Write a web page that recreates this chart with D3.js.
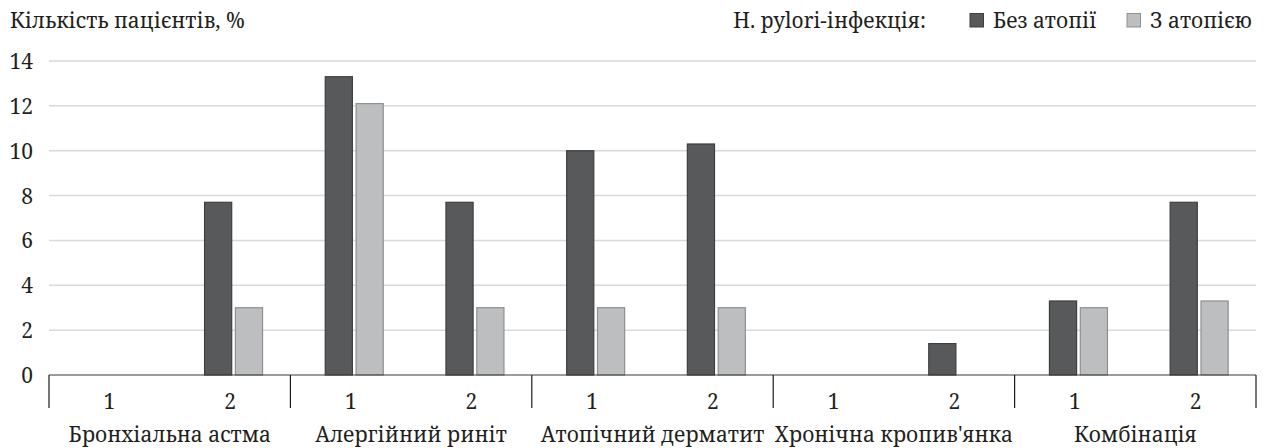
<!DOCTYPE html>
<html>
<head>
<meta charset="utf-8">
<script src="https://cdn.jsdelivr.net/npm/d3@7/dist/d3.min.js"></script>
<style>
  html, body { margin: 0; padding: 0; background: #fff; }
  svg { display: block; }
</style>
</head>
<body>
<svg id="chart" width="1265" height="448"></svg>
<script>
// Diagnosis groups and their two subgroups
const groups = ["Бронхіальна астма", "Алергійний риніт", "Атопічний дерматит", "Хронічна кропив'янка", "Комбінація"];
const subgroups = ["1", "2"];
const seriesNames = ["Без атопії", "З атопією"];
// Values per group, subgroup order 1, 2
const withoutAtopy = [[0, 7.7], [13.3, 7.7], [10.0, 10.3], [0, 1.4], [3.3, 7.7]];
const withAtopy = [[0, 3.0], [12.1, 3.0], [3.0, 3.0], [0, 0], [3.0, 3.3]];
const yTicks = [0, 2, 4, 6, 8, 10, 12, 14];

const colors = { fill: ["#58595b", "#bdbec0"], stroke: ["#3e3f41", "#8e8f91"] };
const textColor = "#231f20";
const fontSize = 21;

const svg = d3.select("#chart")
  .attr("font-family", "'Noto Serif', 'DejaVu Serif', serif");

const plotLeft = 49, plotRight = 1256, plotTop = 61, plotBottom = 375;

const y = d3.scaleLinear().domain([0, 14]).range([plotBottom, plotTop]);

// one slot per group/subgroup pair
const slots = [];
groups.forEach((g, gi) => subgroups.forEach((s, si) => {
  slots.push({ key: gi + "-" + si, group: g, gi, sub: s, values: [withoutAtopy[gi][si], withAtopy[gi][si]] });
}));

const xSlot = d3.scaleBand().domain(slots.map(d => d.key)).range([plotLeft, plotRight]).padding(0);
const xGroup = d3.scaleBand().domain(groups).range([plotLeft, plotRight]).padding(0);
const bw = xSlot.bandwidth();
const xSeries = d3.scaleBand().domain([0, 1]).range([bw / 2 - 26, bw / 2 + 32]).paddingInner(0.12);

// gridlines
svg.append("g")
  .selectAll("line")
  .data(yTicks.filter(t => t > 0))
  .join("line")
  .attr("x1", plotLeft).attr("x2", plotRight)
  .attr("y1", d => y(d)).attr("y2", d => y(d))
  .attr("stroke", "#d9d9d9").attr("stroke-width", 1.5);

// y tick labels
svg.append("g")
  .selectAll("text")
  .data(yTicks)
  .join("text")
  .attr("x", 33).attr("y", d => y(d) + 8)
  .attr("text-anchor", "end")
  .attr("font-size", fontSize).attr("fill", textColor)
  .text(d => d);

// bars
const slotG = svg.append("g")
  .selectAll("g")
  .data(slots)
  .join("g")
  .attr("transform", d => `translate(${xSlot(d.key)},0)`);

slotG.selectAll("rect")
  .data(d => d.values.map((v, i) => ({ v, i })).filter(e => e.v > 0))
  .join("rect")
  .attr("x", e => xSeries(e.i) + 0.5)
  .attr("width", xSeries.bandwidth())
  .attr("y", e => y(e.v))
  .attr("height", e => y(0) - y(e.v))
  .attr("fill", e => colors.fill[e.i])
  .attr("stroke", e => colors.stroke[e.i])
  .attr("stroke-width", 1.2);

// baseline
svg.append("line")
  .attr("x1", plotLeft).attr("x2", plotRight)
  .attr("y1", plotBottom).attr("y2", plotBottom)
  .attr("stroke", "#3a3a3a").attr("stroke-width", 1.2);

// group separators
const seps = groups.map(g => xGroup(g)).concat([plotRight]);
svg.append("g")
  .selectAll("line")
  .data(seps)
  .join("line")
  .attr("x1", d => d).attr("x2", d => d)
  .attr("y1", plotBottom).attr("y2", 408)
  .attr("stroke", "#1a1a1a").attr("stroke-width", 1.2);

// subgroup labels
svg.append("g")
  .selectAll("text")
  .data(slots)
  .join("text")
  .attr("x", d => xSlot(d.key) + bw / 2)
  .attr("y", 409)
  .attr("text-anchor", "middle")
  .attr("font-size", fontSize).attr("fill", textColor)
  .text(d => d.sub);

// group labels
svg.append("g")
  .selectAll("text")
  .data(groups)
  .join("text")
  .attr("x", d => xGroup(d) + xGroup.bandwidth() / 2)
  .attr("y", 442)
  .attr("text-anchor", "middle")
  .attr("font-size", fontSize).attr("fill", textColor)
  .text(d => d);

// axis title
svg.append("text")
  .attr("x", 10).attr("y", 28)
  .attr("font-size", fontSize).attr("fill", textColor)
  .text("Кількість пацієнтів, %");

// legend
const legend = svg.append("g");
legend.append("text")
  .attr("x", 926).attr("y", 28)
  .attr("text-anchor", "end")
  .attr("font-size", fontSize).attr("fill", textColor)
  .text("H. pylori-інфекція:");
const legendX = [970, 1127];
seriesNames.forEach((name, i) => {
  legend.append("rect")
    .attr("x", legendX[i]).attr("y", 13.5)
    .attr("width", 13.5).attr("height", 13.5)
    .attr("fill", colors.fill[i]).attr("stroke", colors.stroke[i]).attr("stroke-width", 1);
  legend.append("text")
    .attr("x", legendX[i] + 23).attr("y", 28)
    .attr("font-size", fontSize).attr("fill", textColor)
    .text(name);
});
</script>
</body>
</html>
